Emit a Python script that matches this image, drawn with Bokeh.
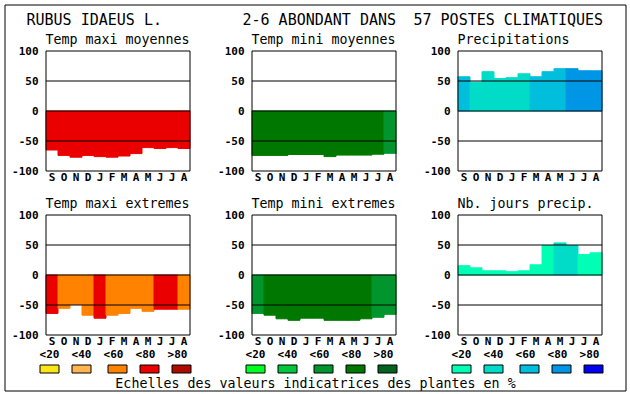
from bokeh.plotting import figure
from bokeh.models import Range1d, ColumnDataSource
from bokeh.embed import file_html
from bokeh.resources import INLINE
from bokeh.core.properties import value

# ---------------- data ----------------
header_left = "RUBUS IDAEUS L."
header_mid = "2-6 ABONDANT DANS"
header_right = "57 POSTES CLIMATIQUES"
footer = "Echelles des valeurs indicatrices des plantes en %"

months = ["S", "O", "N", "D", "J", "F", "M", "A", "M", "J", "J", "A"]
tick_values = [100, 50, 0, -50, -100]
tick_labels = ["100", "50", "0", "-50", "-100"]
grid_values = [50, 0, -50]
class_labels = ["<20", "<40", "<60", "<80", ">80"]

reds = ["#FAE619", "#FFB650", "#FF8200", "#EB0000", "#AF0A00"]
greens = ["#00FF1E", "#00C83C", "#00962D", "#007800", "#00641E"]
blues = ["#00FFB4", "#00DCC8", "#00BEDC", "#0096E6", "#0000F0"]

titles = ["Temp maxi moyennes", "Temp mini moyennes", "Precipitations",
          "Temp maxi extremes", "Temp mini extremes", "Nb. jours precip."]

tmax_moy = [-65, -74, -77, -74, -76, -77, -75, -71, -61, -62.5, -61, -62.5]
tmax_moy_cls = [3, 3, 3, 3, 3, 3, 3, 3, 3, 3, 3, 3]

tmin_moy = [-74, -74, -74, -72.5, -72.5, -72.5, -76, -73.5, -73.5, -73.5, -72, -70.5]
tmin_moy_cls = [3, 3, 3, 3, 3, 3, 3, 3, 3, 3, 3, 2]

precip = [57, 48, 65.5, 54, 55.5, 62, 57, 65.5, 70.5, 70.5, 67, 67]
precip_cls = [2, 1, 1, 1, 1, 1, 2, 2, 2, 3, 3, 3]

tmax_ext = [-64, -55.5, -49, -67, -72, -67, -64, -55.5, -60.5, -57, -57, -57]
tmax_ext_cls = [3, 2, 2, 2, 3, 2, 2, 2, 2, 3, 3, 2]

tmin_ext = [-64, -67, -73, -75.5, -72, -72, -75.5, -75.5, -75.5, -73, -70.5, -65.5]
tmin_ext_cls = [2, 3, 3, 3, 3, 3, 3, 3, 3, 3, 2, 2]

jours = [15.5, 12, 7, 7, 5.5, 7, 17, 49, 53.5, 49, 34, 37]
jours_cls = [0, 0, 0, 0, 0, 0, 0, 0, 1, 1, 0, 0]

# ---------------- layout ----------------
W, H = 628, 392
FW, FH = 144, 120        # panel frame size (px)
col_left = [45.5, 251.5, 457.5]
row_top = [50.5, 214.5]
MONO = value("DejaVu Sans Mono")
DY = -4                  # text baseline correction

p = figure(width=W, height=H, x_range=Range1d(0, W), y_range=Range1d(H, 0),
           min_border=0, toolbar_location=None, output_backend="svg",
           x_axis_location=None, y_axis_location=None,
           outline_line_color=None, background_fill_color="white",
           border_fill_color="white")
p.grid.visible = False

panels = [
    (titles[0], tmax_moy, tmax_moy_cls, reds, 0, 0),
    (titles[1], tmin_moy, tmin_moy_cls, greens, 1, 0),
    (titles[2], precip, precip_cls, blues, 2, 0),
    (titles[3], tmax_ext, tmax_ext_cls, reds, 0, 1),
    (titles[4], tmin_ext, tmin_ext_cls, greens, 1, 1),
    (titles[5], jours, jours_cls, blues, 2, 1),
]

for k, (title, vals, cls, pal, ci, ri) in enumerate(panels):
    L = col_left[ci]
    T = row_top[ri]
    sx = 12.0 / FW
    uy = 200.0 / FH
    xn, yn = f"x{k}", f"y{k}"
    p.extra_x_ranges[xn] = Range1d(start=-0.5 - L * sx, end=-0.5 + (W - L) * sx)
    p.extra_y_ranges[yn] = Range1d(start=100 + T * uy - H * uy, end=100 + T * uy)

    src = ColumnDataSource(dict(x=list(range(len(vals))), top=vals,
                                color=[pal[c] for c in cls]))
    p.vbar(x="x", top="top", bottom=0, width=1, source=src,
           fill_color="color", line_color="color", line_width=1,
           x_range_name=xn, y_range_name=yn)
    p.segment(x0=[-0.5] * len(grid_values), x1=[11.5] * len(grid_values),
              y0=grid_values, y1=grid_values, line_color="black", line_width=1,
              x_range_name=xn, y_range_name=yn)
    p.quad(left=-0.5, right=11.5, bottom=-100, top=100, fill_color=None,
           line_color="black", line_width=1, x_range_name=xn, y_range_name=yn)
    p.text(x=[-0.5] * len(tick_values), y=tick_values, text=tick_labels,
           x_offset=-7.5, y_offset=4 + DY, text_align="right", text_baseline="alphabetic",
           text_font=MONO, text_font_style="bold", text_font_size="11px",
           text_color="black", x_range_name=xn, y_range_name=yn)
    p.text(x=list(range(12)), y=[-100] * 12, text=months, y_offset=10 + DY,
           text_align="center", text_baseline="alphabetic",
           text_font=MONO, text_font_style="bold", text_font_size="11px",
           text_color="black", x_range_name=xn, y_range_name=yn)
    # panel title
    p.text(x=[L - 0.5], y=[T - 7.5 + DY], text=[title], text_align="left",
           text_baseline="alphabetic", text_font=MONO, text_font_size="13.3px",
           text_color="black")

# legend (under the bottom row)
B = row_top[1] + FH
lab_off = [3.5, 35.5, 67.5, 99.5, 131.5]
box_off = [3.5, 35.5, 71.5, 103.5, 135.5]
for ci, pal in enumerate([reds, greens, blues]):
    L = col_left[ci]
    p.text(x=[L + o for o in lab_off], y=[B + 23.5 + DY] * 5, text=class_labels,
           text_align="center", text_baseline="alphabetic", text_font=MONO,
           text_font_style="bold", text_font_size="11px", text_color="black")
    p.rect(x=[L + o for o in box_off], y=[B + 34] * 5, width=19, height=8,
           fill_color=pal, line_color="black", line_width=1)

# header & footer
p.text(x=[26, 242, 413], y=[23.5 + DY] * 3, text=[header_left, header_mid, header_right],
       text_align="left", text_baseline="alphabetic", text_font=MONO,
       text_font_size="15px", text_color="black")
p.text(x=[315], y=[386.5 + DY], text=[footer], text_align="center",
       text_baseline="alphabetic", text_font=MONO, text_font_size="13.3px",
       text_color="black")

# outer frame
p.quad(left=4.5, right=625.5, top=4.5, bottom=390.5, fill_color=None,
       line_color="black", line_width=1)

open("out.html", "w").write(file_html(p, INLINE))
